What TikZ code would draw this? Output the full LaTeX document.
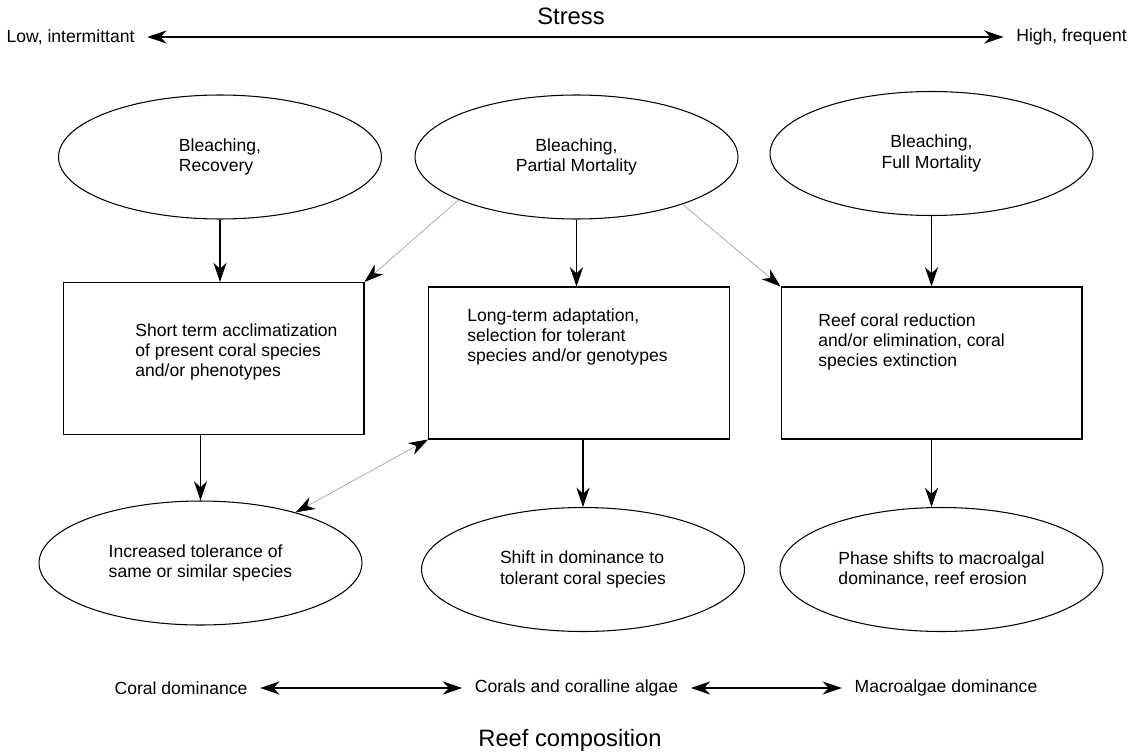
\documentclass[tikz,border=0pt]{standalone}
\usepackage{fontspec}
\setmainfont{Liberation Sans}
\usetikzlibrary{shapes.geometric,arrows.meta}
\begin{document}
\begin{tikzpicture}[->, x=0.02cm, y=-0.02cm, line width=0.6pt,
  >={Stealth[length=11pt,width=7.5pt,inset=3.5pt]}]
\useasboundingbox (0,0) rectangle (1141,753);
\tikzstyle{every node} = [font=\fontsize{10}{11.5}\selectfont, align=left]
\tikzstyle{oval} = [draw, ellipse, inner sep=0pt, minimum width=6.46cm, minimum height=2.48cm]
\tikzstyle{process} = [draw, rectangle, inner sep=0pt, minimum width=6.02cm, minimum height=3.04cm]
\tikzstyle{faint} = [draw=gray!70, line width=0.4pt, >={Stealth[length=11pt,width=7.5pt,inset=3.5pt,color=black]}]
\tikzstyle{heading} = [font=\fontsize{13.5}{16}\selectfont]
\tikzstyle{endlbl} = [inner xsep=7pt]
% stress axis
\node[heading] (stress) at (571,16) {Stress};
\node[endlbl] (low) at (70.5,37) {Low, intermittant};
\node[endlbl] (high) at (1071.5,37) {High, frequent};
\draw[<->] (low) -- (high);
% bleaching outcomes
\node[oval] (e1) at (220,157) {Bleaching,\\Recovery};
\node[oval, align=center] (e2) at (576.5,157) {Bleaching,\\Partial Mortality};
\node[oval, align=center] (e3) at (931.5,153.5) {Bleaching,\\Full Mortality};
% responses
\node[process] (b1) at (213.5,358.5) {};
\node[process] (b2) at (579,363) {};
\node[process] (b3) at (931.5,363) {};
\node[anchor=west] (t1) at (129,352) {Short term acclimatization\\of present coral species\\and/or phenotypes};
\node[anchor=west] (t2) at (461,337) {Long-term adaptation,\\selection for tolerant\\species and/or genotypes};
\node[anchor=west] (t3) at (812,342) {Reef coral reduction\\and/or elimination, coral\\species extinction};
% results
\node[oval] (e4) at (200.5,563) {Increased tolerance of\\same or similar species};
\node[oval] (e5) at (583,569.5) {Shift in dominance to\\tolerant coral species};
\node[oval] (e6) at (941.5,569.5) {Phase shifts to macroalgal\\dominance, reef erosion};
\draw (e1.south) -- (e1.south |- b1.north);
\draw (e2.south) -- (e2.south |- b2.north);
\draw (e3.south) -- (e3.south |- b3.north);
\draw (e4.north |- b1.south) -- (e4.north);
\draw (e5.north |- b2.south) -- (e5.north);
\draw (b3.south) -- (b3.south |- e6.north);
\draw[faint] (e2.200) -- (b1.north east);
\draw[faint] (e2.-24) -- (b3.north west);
\draw[faint, <->] (b2.south west) -- (e4.28);
% reef composition axis
\node[endlbl] (cd) at (181,688) {Coral dominance};
\node[endlbl] (cca) at (576.5,688) {Corals and coralline algae};
\node[endlbl] (md) at (946,688) {Macroalgae dominance};
\draw[<->] (cd) -- (cca);
\draw[<->] (cca) -- (md);
\node[heading] (comp) at (570,740) {Reef composition};
\end{tikzpicture}
\end{document}
